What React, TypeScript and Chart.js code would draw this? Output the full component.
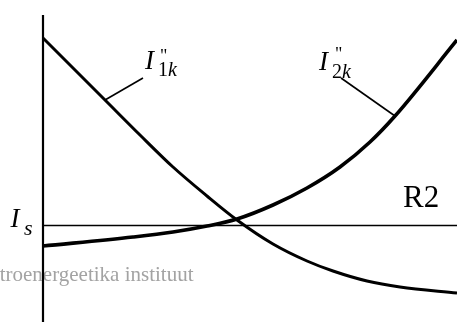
import React, { useEffect, useRef } from "react";
import { Chart, registerables } from "chart.js";

Chart.register(...registerables);

// Curve I''1k (decreasing)
const i1kX = [0, 6.2, 9.7, 13.0, 16.4, 19.4, 23.0, 26.4, 29.0, 32.4, 35.7, 41.4];
const i1kY = [28.4, 22.2, 18.7, 15.5, 12.6, 10.2, 7.8, 6.1, 5.1, 4.1, 3.5, 2.9];
// Curve I''2k (increasing)
const i2kX = [0, 9.0, 13.0, 16.4, 19.4, 23.0, 26.4, 29.7, 32.7, 35.2, 41.4];
const i2kY = [7.6, 8.5, 9.0, 9.6, 10.3, 11.7, 13.4, 15.5, 18.0, 20.6, 28.2];
// Threshold level Is
const isLevel = 9.65;
// Vertical axis extent
const axisTop = 30.7;
const xMin = -4.3;
const xMax = 41.4;
const yMin = 0;
const yMax = 32.2;
// Leader lines for labels
const lead1X = [6.2, 10.0];
const lead1Y = [22.2, 24.4];
const lead2X = [29.8, 35.2];
const lead2Y = [24.4, 20.6];
// Label anchors (data units)
const label1 = { x: 10.2, y: 25.3 };
const label2 = { x: 27.6, y: 25.2 };
const labelIs = { x: -3.25, y: 9.5 };
const labelR2 = { x: 36.0, y: 11.5, text: "R2" };
const watermark = { x: 15.05, y: 4.1, text: "Elektroenergeetika instituut" };

const zip = (xs: number[], ys: number[]) => xs.map((x, i) => ({ x, y: ys[i] }));

const SERIF = '"Liberation Serif", "Times New Roman", serif';

const textPlugin = {
  id: "labels",
  beforeDatasetsDraw(chart: any) {
    const ctx = chart.ctx;
    const sx = chart.scales.x;
    const sy = chart.scales.y;
    ctx.save();
    ctx.fillStyle = "#a3a3a3";
    ctx.font = `21px ${SERIF}`;
    ctx.textAlign = "right";
    ctx.textBaseline = "alphabetic";
    ctx.fillText(watermark.text, sx.getPixelForValue(watermark.x), sy.getPixelForValue(watermark.y));
    ctx.restore();
  },
  afterDatasetsDraw(chart: any) {
    const ctx = chart.ctx;
    const sx = chart.scales.x;
    const sy = chart.scales.y;
    ctx.save();
    ctx.fillStyle = "#000";
    ctx.textAlign = "left";
    ctx.textBaseline = "alphabetic";
    const drawI = (anchor: { x: number; y: number }, digit: string, subDx: number, subDy: number, primeDx: number, primeDy: number) => {
      const px = sx.getPixelForValue(anchor.x);
      const py = sy.getPixelForValue(anchor.y);
      ctx.font = `italic 27px ${SERIF}`;
      ctx.fillText("I", px, py);
      ctx.font = `18px ${SERIF}`;
      ctx.fillText('"', px + primeDx, py + primeDy);
      ctx.font = `20px ${SERIF}`;
      ctx.fillText(digit, px + subDx, py + subDy);
      const w = ctx.measureText(digit).width;
      ctx.font = `italic 20px ${SERIF}`;
      ctx.fillText("k", px + subDx + w, py + subDy);
    };
    drawI(label1, "1", 13, 7, 15, -7.5);
    drawI(label2, "2", 13, 8, 16, -10);
    // Is
    {
      const px = sx.getPixelForValue(labelIs.x);
      const py = sy.getPixelForValue(labelIs.y);
      ctx.font = `italic 27px ${SERIF}`;
      ctx.fillText("I", px, py);
      ctx.font = `italic 22px ${SERIF}`;
      ctx.fillText("s", px + 13.5, py + 8);
    }
    ctx.font = `31px ${SERIF}`;
    ctx.fillText(labelR2.text, sx.getPixelForValue(labelR2.x), sy.getPixelForValue(labelR2.y));
    ctx.restore();
  },
};

export default function App() {
  const ref = useRef<HTMLCanvasElement | null>(null);
  useEffect(() => {
    document.body.style.margin = "0";
    if (!ref.current) return;
    const chart = new Chart(ref.current, {
      type: "line",
      data: {
        datasets: [
          {
            label: "I1k",
            data: zip(i1kX, i1kY),
            borderColor: "#000",
            borderWidth: 3,
            pointRadius: 0,
            cubicInterpolationMode: "monotone",
          },
          {
            label: "I2k",
            data: zip(i2kX, i2kY),
            borderColor: "#000",
            borderWidth: 3.6,
            pointRadius: 0,
            cubicInterpolationMode: "monotone",
          },
          {
            label: "Is",
            data: [
              { x: 0, y: isLevel },
              { x: xMax, y: isLevel },
            ],
            borderColor: "#000",
            borderWidth: 1.5,
            pointRadius: 0,
            tension: 0,
          },
          {
            label: "axis",
            data: [
              { x: 0, y: yMin },
              { x: 0, y: axisTop },
            ],
            borderColor: "#000",
            borderWidth: 2.2,
            pointRadius: 0,
            tension: 0,
          },
          {
            label: "lead1",
            data: zip(lead1X, lead1Y),
            borderColor: "#000",
            borderWidth: 1.6,
            pointRadius: 0,
            tension: 0,
          },
          {
            label: "lead2",
            data: zip(lead2X, lead2Y),
            borderColor: "#000",
            borderWidth: 1.6,
            pointRadius: 0,
            tension: 0,
          },
        ],
      },
      options: {
        animation: false,
        responsive: false,
        devicePixelRatio: 1,
        layout: { padding: 0 },
        plugins: { legend: { display: false }, tooltip: { enabled: false } },
        scales: {
          x: { type: "linear", min: xMin, max: xMax, display: false },
          y: { type: "linear", min: yMin, max: yMax, display: false },
        },
        elements: { line: { capBezierPoints: true } },
      },
      plugins: [textPlugin],
    } as any);
    return () => chart.destroy();
  }, []);
  return (
    <div style={{ position: "absolute", left: 0, top: 0, width: 457, height: 322, background: "#fff" }}>
      <canvas ref={ref} width={457} height={322} style={{ display: "block" }} />
    </div>
  );
}
